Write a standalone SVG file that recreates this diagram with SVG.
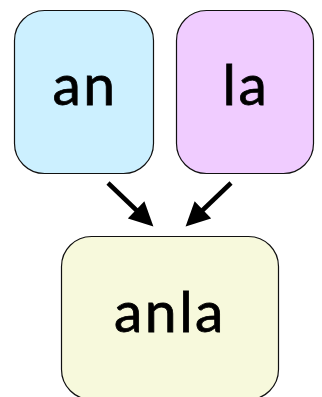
<svg xmlns="http://www.w3.org/2000/svg" width="322" height="397" viewBox="0 0 322 397">
<style>
.box{stroke:#111;stroke-width:1.2}
.lbl{font-family:Lato,"Liberation Sans",sans-serif;font-size:57px;font-weight:400;fill:#000;stroke:#000;stroke-width:0.8;text-anchor:middle;letter-spacing:2.5px}
.edge{stroke:#000;stroke-width:4.5;fill:none}
</style>
<defs>
<marker id="ah" viewBox="0 0 10 10" refX="4" refY="5" markerUnits="userSpaceOnUse" markerWidth="25" markerHeight="24" orient="auto">
<path d="M0,0 L10,5 L0,10 z" fill="#000"/>
</marker>
</defs>
<g id="node-an">
<rect class="box" x="14.5" y="10.5" width="139" height="163" rx="30" fill="#ccf0ff"/>
<text class="lbl" x="85" y="105">an</text>
</g>
<g id="node-la">
<rect class="box" x="176.5" y="10.5" width="137" height="163" rx="30" fill="#f0ccff"/>
<text class="lbl" x="246" y="105">la</text>
</g>
<g id="node-anla">
<rect class="box" x="61.5" y="236.5" width="217" height="163" rx="30" fill="#f7f9dc"/>
<text class="lbl" x="170" y="332">anla</text>
</g>
<g id="connectors">
<line class="edge" x1="108" y1="183" x2="143" y2="216.5" marker-end="url(#ah)"/>
<line class="edge" x1="231" y1="183" x2="196" y2="216.5" marker-end="url(#ah)"/>
</g>
</svg>
